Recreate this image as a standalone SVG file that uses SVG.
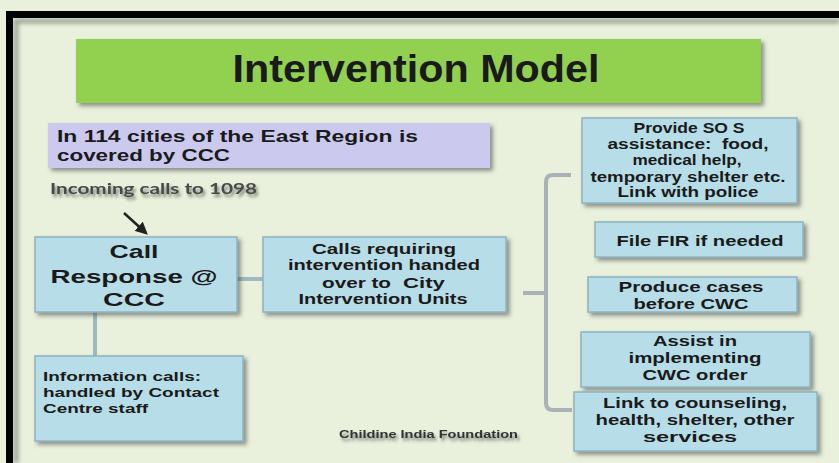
<svg xmlns="http://www.w3.org/2000/svg" width="839" height="463" viewBox="0 0 839 463">
<defs>
<filter id="sh" x="-10%" y="-10%" width="130%" height="140%">
<feDropShadow dx="3" dy="3" stdDeviation="2" flood-color="#404040" flood-opacity="0.55"/>
</filter>
<filter id="tsh" x="-10%" y="-40%" width="130%" height="200%">
<feDropShadow dx="2" dy="3" stdDeviation="1.8" flood-color="#303030" flood-opacity="0.55"/>
</filter>
<filter id="blur"><feGaussianBlur stdDeviation="2"/></filter>
<marker id="ah" viewBox="0 0 10 10" refX="8" refY="5" markerWidth="5" markerHeight="5" orient="auto">
<path d="M0,0 L10,5 L0,10 z" fill="#222"/>
</marker>
</defs>
<style>
.bx{fill:#b7dde8;stroke:#8eb3bf;stroke-width:1.5;filter:url(#sh)}
.t{font-family:"Liberation Sans",Arial,sans-serif;font-weight:bold;fill:#1a1a1a;text-anchor:middle;white-space:pre}
.tl{font-family:"Liberation Sans",Arial,sans-serif;font-weight:bold;fill:#1a1a1a}
.ln{stroke:#9db9c2;stroke-width:4;fill:none}
.br{stroke:#a9b2b6;stroke-width:4;fill:none;stroke-linejoin:round}
</style>
<rect x="0" y="0" width="839" height="463" fill="#e9f1dd"/>
<g id="frame">
<path d="M16,463 V21 H839" stroke="#8a8f84" stroke-width="5" fill="none" filter="url(#blur)" opacity="0.8"/>
<path d="M9.5,463 V14.5 H839" stroke="#000" stroke-width="7" fill="none"/>
</g>
<g id="title">
<rect x="76" y="39" width="685" height="64" fill="#92d050" filter="url(#sh)"/>
<text class="t" x="416" y="82" font-size="39" textLength="367" lengthAdjust="spacingAndGlyphs" fill="#111">Intervention Model</text>
</g>
<g id="coverage">
<rect x="48" y="123" width="442" height="45" fill="#ccc9ee" filter="url(#sh)"/>
<text class="tl" x="57" y="142" font-size="16.5" textLength="361" lengthAdjust="spacingAndGlyphs">In 114 cities of the East Region is</text>
<text class="tl" x="57" y="161" font-size="16.5" textLength="173" lengthAdjust="spacingAndGlyphs">covered by CCC</text>
</g>
<g id="incoming">
<text x="50" y="194" font-family="Lato,'Liberation Sans',sans-serif" font-weight="bold" font-size="15" fill="#4a4a4a" textLength="207" lengthAdjust="spacingAndGlyphs" filter="url(#tsh)">Incoming calls to 1098</text>
</g>
<g id="connectors">
<line x1="124" y1="213" x2="146" y2="233" stroke="#222" stroke-width="2.5" marker-end="url(#ah)"/>
<line class="ln" x1="237" y1="279" x2="263" y2="279"/>
<line class="ln" x1="95" y1="312" x2="95" y2="356"/>
<path class="br" d="M571,175 H553 Q546,175 546,182 V403 Q546,410 553,410 H572"/>
<path class="br" d="M546,293 H523"/>
</g>
<g id="callresponse">
<rect class="bx" x="35" y="237" width="202" height="75"/>
<text class="t" x="134" y="258" font-size="19" textLength="49" lengthAdjust="spacingAndGlyphs">Call</text>
<text class="t" x="134" y="283" font-size="19" textLength="167" lengthAdjust="spacingAndGlyphs">Response @</text>
<text class="t" x="134" y="306" font-size="19" textLength="62" lengthAdjust="spacingAndGlyphs">CCC</text>
</g>
<g id="handover">
<rect class="bx" x="263" y="237" width="243" height="75"/>
<text class="t" x="384" y="254" font-size="14.5" textLength="144" lengthAdjust="spacingAndGlyphs">Calls requiring</text>
<text class="t" x="384" y="270" font-size="14.5" textLength="192" lengthAdjust="spacingAndGlyphs">intervention handed</text>
<text class="tl" y="288" font-size="14.5"><tspan x="322" textLength="69" lengthAdjust="spacingAndGlyphs">over to</tspan><tspan x="403" textLength="42" lengthAdjust="spacingAndGlyphs">City</tspan></text>
<text class="t" x="383" y="304" font-size="14.5" textLength="169" lengthAdjust="spacingAndGlyphs">Intervention Units</text>
</g>
<g id="info">
<rect class="bx" x="35" y="356" width="208" height="85"/>
<text class="tl" x="43" y="381" font-size="13.5" textLength="158" lengthAdjust="spacingAndGlyphs">Information calls:</text>
<text class="tl" x="43" y="397" font-size="13.5" textLength="176" lengthAdjust="spacingAndGlyphs">handled by Contact</text>
<text class="tl" x="43" y="413" font-size="13.5" textLength="105" lengthAdjust="spacingAndGlyphs">Centre staff</text>
</g>
<g id="credit">
<text x="339" y="438" font-family="'Liberation Sans',Arial,sans-serif" font-weight="bold" font-size="11" fill="#333" textLength="179" lengthAdjust="spacingAndGlyphs" filter="url(#tsh)">Childine India Foundation</text>
</g>
<g id="sos">
<rect class="bx" x="582" y="118" width="215" height="85"/>
<text class="t" x="689" y="133" font-size="14" textLength="111" lengthAdjust="spacingAndGlyphs">Provide SO S</text>
<text class="t" x="688" y="149" font-size="14" textLength="161" lengthAdjust="spacingAndGlyphs" xml:space="preserve">assistance:  food,</text>
<text class="t" x="687" y="165" font-size="14" textLength="109" lengthAdjust="spacingAndGlyphs">medical help,</text>
<text class="t" x="688" y="182" font-size="14" textLength="195" lengthAdjust="spacingAndGlyphs">temporary shelter etc.</text>
<text class="t" x="688" y="197" font-size="14" textLength="141" lengthAdjust="spacingAndGlyphs">Link with police</text>
</g>
<g id="fir">
<rect class="bx" x="595" y="222" width="208" height="35"/>
<text class="t" x="700" y="246" font-size="15" textLength="167" lengthAdjust="spacingAndGlyphs">File FIR if needed</text>
</g>
<g id="produce">
<rect class="bx" x="588" y="277" width="209" height="35"/>
<text class="t" x="691" y="292" font-size="15" textLength="145" lengthAdjust="spacingAndGlyphs">Produce cases</text>
<text class="t" x="691" y="309" font-size="15" textLength="115" lengthAdjust="spacingAndGlyphs">before CWC</text>
</g>
<g id="assist">
<rect class="bx" x="581" y="332" width="229" height="55"/>
<text class="t" x="695" y="346" font-size="15" textLength="84" lengthAdjust="spacingAndGlyphs">Assist in</text>
<text class="t" x="695" y="363" font-size="15" textLength="133" lengthAdjust="spacingAndGlyphs">implementing</text>
<text class="t" x="695" y="380" font-size="15" textLength="105" lengthAdjust="spacingAndGlyphs">CWC order</text>
</g>
<g id="link">
<rect class="bx" x="574" y="392" width="243" height="59"/>
<text class="t" x="695" y="408" font-size="15.5" textLength="184" lengthAdjust="spacingAndGlyphs">Link to counseling,</text>
<text class="t" x="695" y="425" font-size="15.5" textLength="199" lengthAdjust="spacingAndGlyphs">health, shelter, other</text>
<text class="t" x="690" y="442" font-size="15.5" textLength="94" lengthAdjust="spacingAndGlyphs">services</text>
</g>
</svg>
